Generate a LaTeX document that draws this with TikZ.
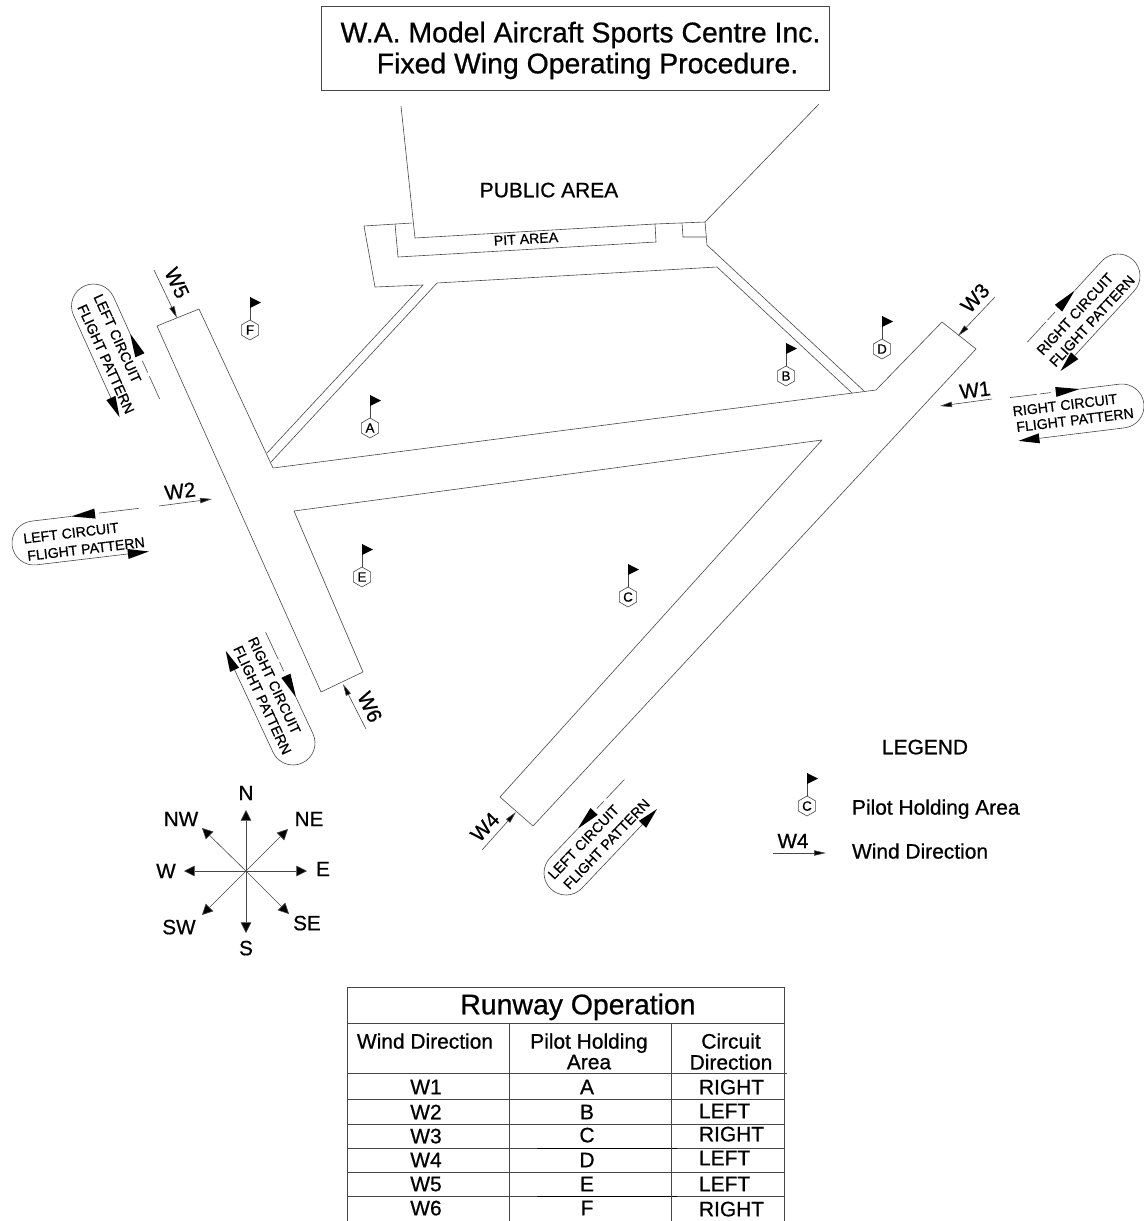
\documentclass[tikz,border=0pt]{standalone}
\usepackage{fontspec}
\setmainfont{Liberation Sans}[RawFeature={embolden=0.7}]
\usetikzlibrary{arrows.meta,shapes.geometric}
\tikzset{
  x=0.75pt,y=-0.75pt,
  ln/.style={line width=0.45pt,draw=black!72},
  thk/.style={line width=0.6pt,draw=black},
  lab/.style={inner sep=0pt,outer sep=0pt,text depth=0pt,align=center},
  px10/.style={lab,font=\fontsize{10.6pt}{10.6pt}\selectfont},
  px20/.style={lab,font=\fontsize{15.5pt}{15.5pt}\selectfont},
  px21/.style={lab,font=\fontsize{15.7pt}{15.7pt}\selectfont},
  px28/.style={lab,font=\fontsize{21.3pt}{21.3pt}\selectfont},
  hexa/.style={regular polygon,regular polygon sides=6,shape border rotate=30,minimum size=15pt,inner sep=0pt,outer sep=0pt,ln,font=\fontsize{10pt}{10pt}\selectfont,text depth=0pt},
  windtip/.style={ln,-{Triangle[length=9pt,width=4pt,fill=black]}},
  comptip/.style={ln,-{Triangle[length=8pt,width=8pt,fill=black]}},
}
% flag: name, x, y, letter
\newcommand{\pilotflag}[4]{%
  \node[hexa] (#1) at (#2,#3) {#4};
  \draw[ln] (#1.north) -- ++(0,-23) coordinate (#1top);
  \fill (#1top) -- ++(11,5.5) -- ++(-11,5.5) -- cycle;
}
% flight pattern: cx, cy, angle, side, dash list, far tip
\newcommand{\flightpat}[6]{%
  \begin{scope}[shift={(#1,#2)},rotate=#3]
    \foreach \a/\b in {#5} {\draw[ln] (\a,#4*22) -- (\b,#4*22);}
    \fill (40,#4*22) -- (64,#4*22+5) -- (64,#4*22-5) -- cycle;
    \fill (#6,-#4*22) -- (#6-21,-#4*22+5) -- (#6-21,-#4*22-5) -- cycle;
    \draw[ln] (40,#4*22) -- (0,#4*22)
      .. controls (-12.15,#4*22) and (-22,#4*12.15) .. (-22,0)
      .. controls (-22,-#4*12.15) and (-12.15,-#4*22) .. (0,-#4*22)
      -- (#6-21,-#4*22);
  \end{scope}
}
\begin{document}
\begin{tikzpicture}
\useasboundingbox (0,0) rectangle (1144,1221);
% title
\draw[ln] (321,6) rectangle (829,90);
\node[px28] (title1) at (580.5,32) {W.A. Model Aircraft Sports Centre Inc.};
\node[px28] (title2) at (587.5,63) {Fixed Wing Operating Procedure.};
\node[px21] (public) at (549,190) {PUBLIC AREA};
% runways
\draw[ln,line join=round] (157,326) -- (199,309) -- (273,468) -- (876,390) -- (942,322) -- (976,349) -- (533,826) -- (500,797) -- (822,440) -- (294,511) -- (363,672) -- (321,692) -- cycle;
% public area and pits
\draw[ln] (401,106) -- (415,238) -- (655,224) -- (705,222) -- (819,104);
\draw[ln] (395,224) -- (398,257) -- (656,242) -- (655,224);
\draw[ln] (412,223) -- (364,226) -- (375,287) -- (423,285) -- (267,453);
\draw[ln] (271,462) -- (437,283) -- (717,267) -- (852,393);
\draw[ln] (705,222) -- (707,245) -- (864,391);
\draw[ln] (682,223) -- (683,237) -- (706,237);
\node[px10,rotate=3.3] (pit) at (526,239) {PIT AREA};
% flags
\pilotflag{hf}{250}{330}{F}
\pilotflag{ha}{370}{428}{A}
\pilotflag{hb}{786}{376}{B}
\pilotflag{hd}{882}{349}{D}
\pilotflag{he}{362}{577}{E}
\pilotflag{hc}{628}{597}{C}
\pilotflag{hl}{807}{806}{C}
% wind arrows
\coordinate (w1a) at (992,399); \coordinate (w1b) at (940,406);
\coordinate (w2a) at (159,506); \coordinate (w2b) at (212,499);
\coordinate (w3a) at (995,297); \coordinate (w3b) at (958,336);
\coordinate (w4a) at (482,850); \coordinate (w4b) at (516,812);
\coordinate (w5a) at (154,270); \coordinate (w5b) at (177,318);
\coordinate (w6a) at (366,729); \coordinate (w6b) at (343,684);
\coordinate (wla) at (773,853); \coordinate (wlb) at (826,853);
\foreach \n in {1,2,3,4,5,6,l} {\draw[windtip] (w\n a) -- (w\n b);}
\node[px20,rotate=7] (lw1) at (975,390) {W1};
\node[px20,rotate=7] (lw2) at (180,491) {W2};
\node[px20,rotate=47] (lw3) at (975,298) {W3};
\node[px20,rotate=46.5] (lw4) at (485,827) {W4};
\node[px20,rotate=-65] (lw5) at (177,283) {W5};
\node[px20,rotate=-65] (lw6) at (370,707) {W6};
% flight patterns
\flightpat{1122}{406}{187}{1}{110/83,80/69}{107}
\node[px10,rotate=7] (t1a) at (1065,405) {RIGHT CIRCUIT};
\node[px10,rotate=7] (t1b) at (1075,420) {FLIGHT PATTERN};
\flightpat{1118}{276}{227.4}{1}{110/83,80/69}{109}
\node[px10,rotate=47.4] (t3a) at (1075,314) {RIGHT CIRCUIT};
\node[px10,rotate=47.4] (t3b) at (1092,321) {FLIGHT PATTERN};
\flightpat{34}{543}{6.8}{-1}{108/68}{113}
\node[px10,rotate=6.8] (t2a) at (71,533) {LEFT CIRCUIT};
\node[px10,rotate=6.8] (t2b) at (86,549) {FLIGHT PATTERN};
\flightpat{93.5}{306}{-65.7}{-1}{112/87,83/70}{112}
\node[px10,rotate=-65.7] (t5a) at (117.5,338.5) {LEFT CIRCUIT};
\node[px10,rotate=-65.7] (t5b) at (106,359) {FLIGHT PATTERN};
\flightpat{293}{743}{115}{1}{112/82,79/69}{112}
\node[px10,rotate=-65] (t6a) at (274.5,685.5) {RIGHT CIRCUIT};
\node[px10,rotate=-65] (t6b) at (262.5,700) {FLIGHT PATTERN};
\flightpat{566}{873}{46.5}{-1}{108/82,78/68}{109}
\node[px10,rotate=46.5] (t4a) at (583.5,842) {LEFT CIRCUIT};
\node[px10,rotate=46.5] (t4b) at (606.5,844) {FLIGHT PATTERN};
% compass
\coordinate (cc) at (246,871);
\node[px20] (cN) at (246,793) {N};
\node[px20] (cNE) at (309,819) {NE};
\node[px20] (cE) at (323,869) {E};
\node[px20] (cSE) at (307,923) {SE};
\node[px20] (cS) at (246,948) {S};
\node[px20] (cSW) at (179,927) {SW};
\node[px20] (cW) at (166,871) {W};
\node[px20] (cNW) at (181,819) {NW};
\foreach \p in {(246,810),(288,829),(307,871),(289,914),(246,933),(202,915),(184,871),(202,828)}
  {\draw[comptip] (cc) -- \p;}
% legend
\node[px21] (leg) at (925,747) {LEGEND};
\node[px21,anchor=west] (leg1) at (852,807) {Pilot Holding Area};
\node[px21,anchor=west] (leg2) at (852,851) {Wind Direction};
\node[px20] (legw) at (793,841) {W4};
% table
\draw[ln] (347,1221) -- (347,987) -- (784,987) -- (784,1221);
\draw[ln] (347,1023) -- (784,1023);
\draw[ln] (347,1073) -- (787,1073);
\foreach \y in {1099,1124,1148,1172,1196} {\draw[ln] (347,\y) -- (784,\y);}
\draw[thk] (537,1148) -- (677,1148);
\draw[thk] (537,1196) -- (677,1196);
\draw[ln] (509,1023) -- (509,1221);
\draw[ln] (671,1023) -- (671,1221);
\node[px28] (tt) at (578,1004) {Runway Operation};
\node[px21] (h1) at (425,1041) {Wind Direction};
\node[px21] (h2a) at (589,1041) {Pilot Holding};
\node[px21] (h2b) at (589,1062) {Area};
\node[px21] (h3a) at (731,1041) {Circuit};
\node[px21] (h3b) at (731,1062) {Direction};
\node[px21] (r1a) at (426,1087) {W1};
\node[px21] (r2a) at (426,1112) {W2};
\node[px21] (r3a) at (426,1136) {W3};
\node[px21] (r4a) at (426,1160) {W4};
\node[px21] (r5a) at (426,1184) {W5};
\node[px21] (r6a) at (426,1208) {W6};
\node[px21] (r1b) at (587,1087) {A};
\node[px21] (r2b) at (587,1112) {B};
\node[px21] (r3b) at (587,1135) {C};
\node[px21] (r4b) at (587,1160) {D};
\node[px21] (r5b) at (587,1184) {E};
\node[px21] (r6b) at (587,1208) {F};
\node[px21,anchor=west] (r1c) at (699,1087) {RIGHT};
\node[px21,anchor=west] (r2c) at (699,1111) {LEFT};
\node[px21,anchor=west] (r3c) at (699,1134) {RIGHT};
\node[px21,anchor=west] (r4c) at (699,1158) {LEFT};
\node[px21,anchor=west] (r5c) at (699,1184) {LEFT};
\node[px21,anchor=west] (r6c) at (699,1209) {RIGHT};
\end{tikzpicture}
\end{document}
